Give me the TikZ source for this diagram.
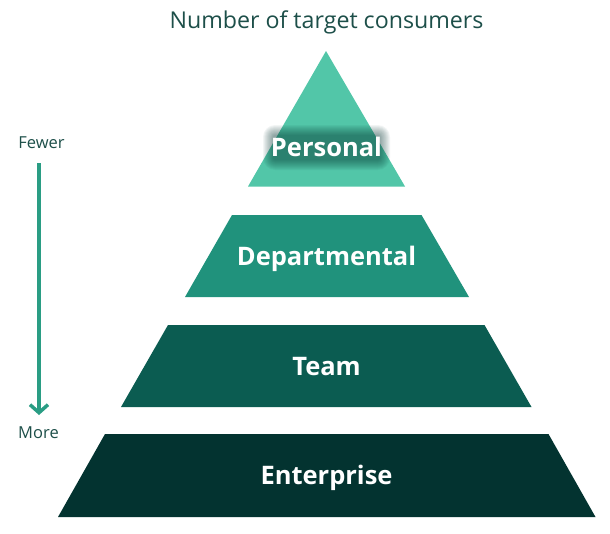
\documentclass[tikz,border=0pt]{standalone}
\usepackage{fontspec}
\setmainfont{Open Sans}
\usetikzlibrary{arrows.meta}
\definecolor{cpers}{HTML}{52C6A8}
\definecolor{cdept}{HTML}{20927C}
\definecolor{cteam}{HTML}{0B5C51}
\definecolor{cent}{HTML}{033330}
\definecolor{ctitle}{HTML}{1D4F49}
\definecolor{carrow}{HTML}{2A9D84}
\tikzset{
  lbl/.style={text=white, font=\fontsize{25.5}{30}\selectfont\bfseries, inner sep=0pt, text height=18pt, text depth=0pt, anchor=center},
  side/.style={text=ctitle, font=\fontsize{16.5}{19}\selectfont, inner sep=0pt},
  ttl/.style={text=ctitle, font=\fontsize{23.2}{26}\selectfont, inner sep=0pt},
  glowbox/.style={fill=cent, fill opacity=0.05, draw=none}
}
\begin{document}
\begin{tikzpicture}[x=1pt,y=-1pt]
\useasboundingbox (0,0) rectangle (610,533);
% shapes
\fill[cpers] (326,51) -- (405,186.5) -- (248,186.5) -- cycle;
\fill[cdept] (232,215) -- (421.5,215) -- (469,297) -- (185,297) -- cycle;
\fill[cteam] (168,325) -- (484.5,325) -- (531.5,407) -- (121,407) -- cycle;
\fill[cent] (105,434) -- (548.5,434) -- (595.5,517) -- (58,517) -- cycle;
% soft glow behind Personal
\foreach \i in {0,1,...,10} {
  \fill[glowbox, rounded corners={12pt-\i pt}] (263+\i,125+\i) rectangle (390-\i,170-\i);
}
% labels
\node[lbl] (personal) at (326.5,147) {Personal};
\node[lbl] (dept) at (326.5,256) {Departmental};
\node[lbl] (team) at (326.5,366.5) {Team};
\node[lbl] (ent) at (326.5,475.5) {Enterprise};
\node[ttl] (title) at (326.5,22) {Number of target consumers};
\node[side] (fewer) at (41.5,143) {Fewer};
\node[side] (more) at (38.5,433) {More};
\coordinate (astart) at (39,163);
\coordinate (aend) at (39,415);
\draw[carrow, line width=4pt, -{Straight Barb[length=8pt, width=18pt, line width=3.5pt]}] (astart) -- (aend);
\end{tikzpicture}
\end{document}
